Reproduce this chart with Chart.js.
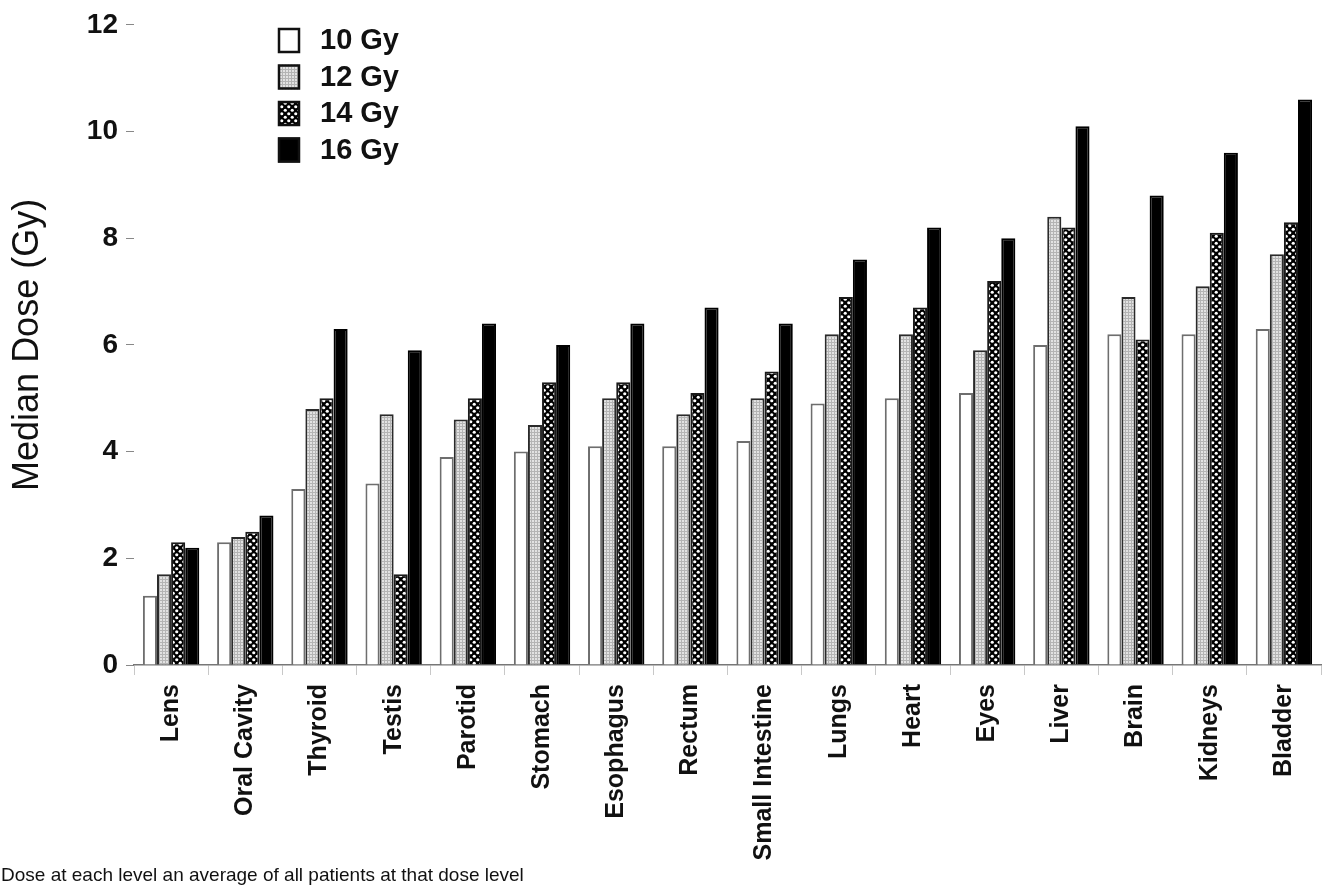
<!DOCTYPE html>
<html>
<head>
<meta charset="utf-8">
<script src="https://cdn.jsdelivr.net/npm/chart.js@4.4.1/dist/chart.umd.min.js"></script>
<style>
  html, body { margin: 0; padding: 0; background: #fff; }
  #wrap { position: relative; width: 1326px; height: 890px; }
</style>
</head>
<body>
<div id="wrap"><canvas id="doseChart" width="1326" height="890"></canvas></div>
<script>
// organs, ordered as in the figure
const organs = ['Lens', 'Oral Cavity', 'Thyroid', 'Testis', 'Parotid', 'Stomach', 'Esophagus',
    'Rectum', 'Small Intestine', 'Lungs', 'Heart', 'Eyes', 'Liver', 'Brain', 'Kidneys', 'Bladder'];

const seriesNames = ['10 Gy', '12 Gy', '14 Gy', '16 Gy'];

// median dose (Gy) per organ, one array per dose level
const dose10 = [1.3, 2.3, 3.3, 3.4, 3.9, 4.0, 4.1, 4.1, 4.2, 4.9, 5.0, 5.1, 6.0, 6.2, 6.2, 6.3];
const dose12 = [1.7, 2.4, 4.8, 4.7, 4.6, 4.5, 5.0, 4.7, 5.0, 6.2, 6.2, 5.9, 8.4, 6.9, 7.1, 7.7];
const dose14 = [2.3, 2.5, 5.0, 1.7, 5.0, 5.3, 5.3, 5.1, 5.5, 6.9, 6.7, 7.2, 8.2, 6.1, 8.1, 8.3];
const dose16 = [2.2, 2.8, 6.3, 5.9, 6.4, 6.0, 6.4, 6.7, 6.4, 7.6, 8.2, 8.0, 10.1, 8.8, 9.6, 10.6];

const yTicks = [0, 2, 4, 6, 8, 10, 12];

const footnote = 'Dose at each level an average of all patients at that dose level';

const FONT = '"Liberation Sans", Arial, sans-serif';

// fill patterns for the hatched bars
function gridPattern() {
    const c = document.createElement('canvas');
    c.width = 3; c.height = 3;
    const g = c.getContext('2d');
    g.fillStyle = '#e2e2e2';
    g.fillRect(0, 0, 3, 3);
    g.fillStyle = '#b4b4b4';
    g.fillRect(0, 0, 3, 1);
    g.fillRect(0, 0, 1, 3);
    return g.createPattern(c, 'repeat');
}

function dotPattern() {
    const c = document.createElement('canvas');
    c.width = 7; c.height = 7;
    const g = c.getContext('2d');
    g.fillStyle = '#000';
    g.fillRect(0, 0, 7, 7);
    g.fillStyle = '#fff';
    g.beginPath();
    g.arc(1.75, 1.75, 1.6, 0, Math.PI * 2);
    g.fill();
    g.beginPath();
    g.arc(5.25, 5.25, 1.6, 0, Math.PI * 2);
    g.fill();
    return g.createPattern(c, 'repeat');
}

const fills = ['#ffffff', gridPattern(), dotPattern(), '#000000'];
const edges = ['#6e6e6e', '#2a2a2a', '#1a1a1a', '#000000'];

// legend drawn inside the plot, top left
const insideLegend = {
    id: 'insideLegend',
    afterDraw(chart) {
        const ctx = chart.ctx;
        const x0 = 278, y0 = 28, rowH = 36.5;
        ctx.save();
        ctx.font = 'bold 29px ' + FONT;
        ctx.textBaseline = 'middle';
        chart.data.datasets.forEach((ds, i) => {
            const y = y0 + i * rowH;
            ctx.fillStyle = ds.backgroundColor;
            ctx.fillRect(x0, y, 22, 25);
            ctx.lineWidth = 2.5;
            ctx.strokeStyle = '#111';
            ctx.strokeRect(x0 + 1, y + 1, 20, 23);
            ctx.fillStyle = '#111';
            ctx.fillText(ds.label, x0 + 42, y + 13);
        });
        ctx.restore();
    }
};

const footnotePlugin = {
    id: 'footnote',
    afterDraw(chart) {
        const ctx = chart.ctx;
        ctx.save();
        ctx.font = '19px ' + FONT;
        ctx.fillStyle = '#111';
        ctx.textBaseline = 'middle';
        ctx.fillText(footnote, 1, 876);
        ctx.restore();
    }
};

const datasets = [dose10, dose12, dose14, dose16].map((vals, i) => ({
    label: seriesNames[i],
    data: vals,
    backgroundColor: fills[i],
    borderColor: edges[i],
    borderWidth: 2,
    borderSkipped: 'bottom',
    barPercentage: 1.0,
    categoryPercentage: 0.76
}));

new Chart(document.getElementById('doseChart'), {
    type: 'bar',
    data: { labels: organs, datasets: datasets },
    plugins: [insideLegend, footnotePlugin],
    options: {
        responsive: false,
        animation: false,
        layout: { padding: { top: 14, right: 5, left: 0, bottom: 0 } },
        plugins: {
            legend: { display: false },
            tooltip: { enabled: false }
        },
        scales: {
            x: {
                afterFit: (s) => { s.height = 225; },
                border: { display: true, color: '#777', width: 1.5 },
                grid: { display: true, offset: true, drawOnChartArea: false, tickLength: 10, color: '#c8c8c8', lineWidth: 1 },
                ticks: {
                    autoSkip: false,
                    maxRotation: 90,
                    minRotation: 90,
                    padding: 9,
                    color: '#111',
                    font: { family: FONT, size: 25, weight: 'bold' }
                }
            },
            y: {
                min: 0,
                max: 12,
                afterFit: (s) => { s.width = 134; },
                afterBuildTicks: (s) => { s.ticks = yTicks.map(v => ({ value: v })); },
                border: { display: false },
                grid: { display: true, drawOnChartArea: false, tickLength: 8, color: '#888', lineWidth: 1 },
                ticks: {
                    padding: 8,
                    color: '#111',
                    font: { family: FONT, size: 28, weight: 'bold' }
                },
                title: {
                    display: true,
                    text: 'Median Dose (Gy)',
                    color: '#111',
                    padding: { top: 6, bottom: 0 },
                    font: { family: FONT, size: 36 }
                }
            }
        }
    }
});
</script>
</body>
</html>
